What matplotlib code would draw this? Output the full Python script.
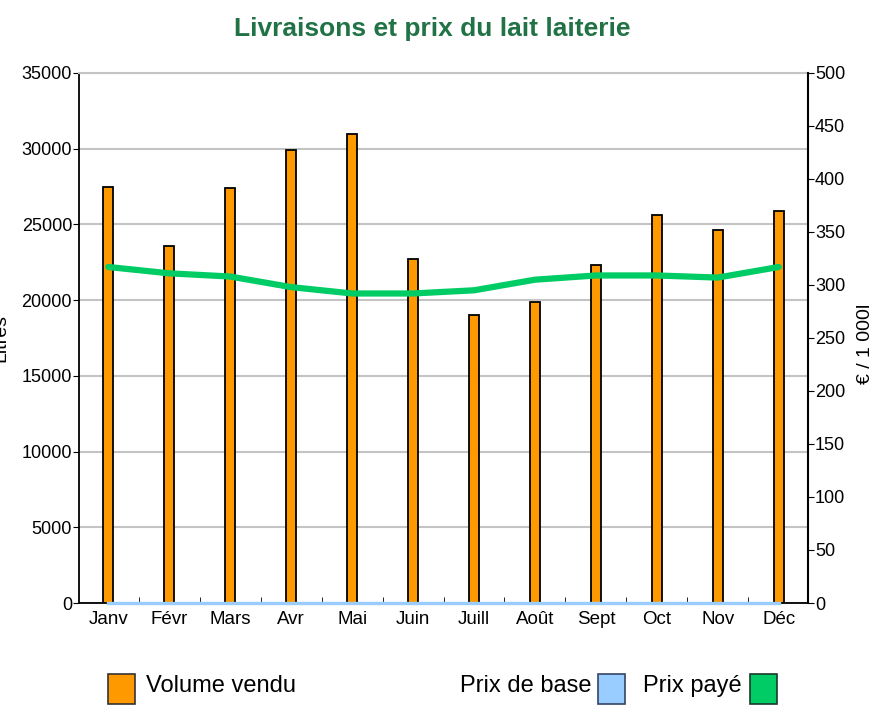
import matplotlib.pyplot as plt
from matplotlib.patches import Rectangle
import numpy as np

plt.rcParams['font.family'] = ['Liberation Sans', 'DejaVu Sans']

# --- DONNEES ---
mois = ['Janv', 'Févr', 'Mars', 'Avr', 'Mai', 'Juin', 'Juill', 'Août',
        'Sept', 'Oct', 'Nov', 'Déc']
volume_vendu = [27500, 23600, 27400, 29900, 31000, 22700, 19000, 19900,
                22300, 25600, 24600, 25900]
prix_base = [0, 0, 0, 0, 0, 0, 0, 0, 0, 0, 0, 0]
prix_paye = [317, 311, 308, 298, 292, 292, 295, 305, 309, 309, 307, 317]

ORANGE = '#ff9900'
BLEU = '#99ccff'
VERT = '#00cc66'
GRIS = '#c4c4c4'

fig = plt.figure(figsize=(8.75, 7.08), dpi=100)
ax = fig.add_axes([79/875, 1 - 603/708, 729/875, 530/708])
ax2 = ax.twinx()

x = np.arange(len(mois))

# barres volume
ax.bar(x, volume_vendu, width=0.16, color=ORANGE, edgecolor='black',
       linewidth=1.3, zorder=3)
ax.set_ylim(0, 35000)
ax.set_yticks(np.arange(0, 35001, 5000))
ax.set_xlim(-0.48, 11.48)
ax.set_xticks(x)
ax.set_xticklabels(mois)
ax.set_xticks(x[:-1] + 0.5, minor=True)
ax.tick_params(axis='x', which='major', length=0, labelsize=13.5, pad=6)
ax.tick_params(axis='x', which='minor', length=4, direction='in', color='black')
ax.tick_params(axis='y', labelsize=13, length=4, color='black', pad=1)
ax.grid(axis='y', color=GRIS, linewidth=1.5, zorder=0)
ax.set_axisbelow(True)

ax.spines['top'].set_color(GRIS)
ax.spines['top'].set_linewidth(1.5)
ax.spines['right'].set_visible(False)
for s in ['left', 'bottom']:
    ax.spines[s].set_color('black')
    ax.spines[s].set_linewidth(1.3)

# lignes prix
ax2.plot(x, prix_base, color=BLEU, linewidth=2.4, zorder=4, clip_on=False)
ax2.plot(x, prix_paye, color=VERT, linewidth=4.5, solid_capstyle='round',
         solid_joinstyle='round', zorder=5)
ax2.set_ylim(0, 500)
ax2.set_yticks(np.arange(0, 501, 50))
ax2.tick_params(axis='y', labelsize=13, length=4, color='black', pad=1)
for s in ['left', 'top', 'bottom']:
    ax2.spines[s].set_visible(False)
ax2.spines['right'].set_color('black')
ax2.spines['right'].set_linewidth(1.5)

# titres
fig.text(432/875, 1 - 29/708, 'Livraisons et prix du lait laiterie',
         ha='center', va='center', fontsize=19, fontweight='bold',
         color='#217346')
fig.text(1/875, 1 - 338/708, 'Litres', rotation=90, ha='center',
         va='center', fontsize=14)
fig.text(865/875, 1 - 344/708, '€ / 1 000l', rotation=90, ha='center',
         va='center', fontsize=14)

# legende
def carre(x0, couleur, bord):
    fig.patches.append(Rectangle((x0/875, 1 - 704/708), 27/875, 30/708,
                                 transform=fig.transFigure, facecolor=couleur,
                                 edgecolor=bord, linewidth=1.2))

carre(108, ORANGE, '#333333')
fig.text(146/875, 1 - 686/708, 'Volume vendu', ha='left', va='center',
         fontsize=17)
fig.text(591/875, 1 - 686/708, 'Prix de base', ha='right', va='center',
         fontsize=17)
carre(598, BLEU, '#334466')
fig.text(742/875, 1 - 686/708, 'Prix payé', ha='right', va='center',
         fontsize=17)
carre(750, VERT, '#1a3a2a')

fig.savefig('out.png', dpi=100)
